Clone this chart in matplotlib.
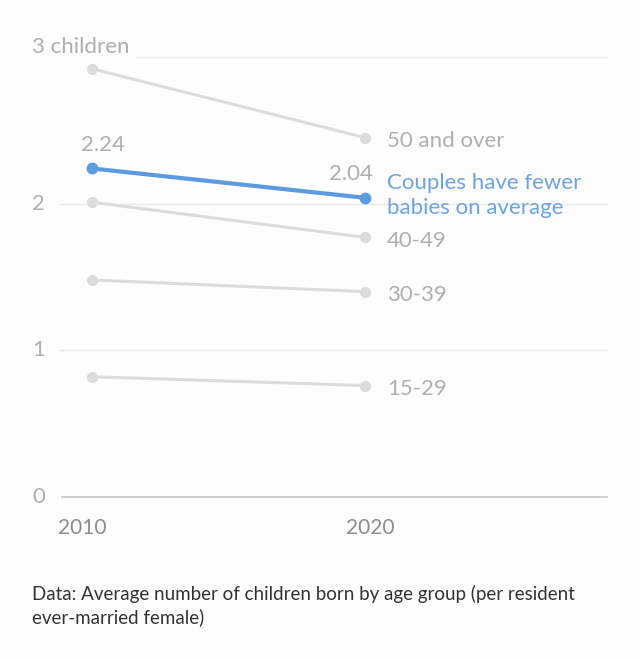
import matplotlib.pyplot as plt

plt.rcParams['font.family'] = ['Lato', 'DejaVu Sans']

# data
years = [2010, 2020]
groups = ['50 and over', '40-49', '30-39', '15-29']
values_50 = [2.92, 2.45]
values_40 = [2.01, 1.77]
values_30 = [1.48, 1.40]
values_15 = [0.82, 0.76]
average = [2.24, 2.04]
yticks = [0, 1, 2, 3]
ytick_labels = ['0', '1', '2', '3 children']

grey = '#dcdcdc'
grey_text = '#afafaf'
blue = '#5b9be0'
blue_text = '#6fa3dc'

fig = plt.figure(figsize=(6.4, 6.6), dpi=100)
fig.patch.set_facecolor('#fdfdfe')
ax = fig.add_axes([60 / 640, 1 - 497 / 660, 547 / 640, 440 / 660])
ax.set_facecolor('#fdfdfe')
ax.set_xlim(2008.83, 2028.86)
ax.set_ylim(0, 3)
for s in ax.spines.values():
    s.set_visible(False)
ax.set_xticks([])
ax.set_yticks([])

# gridlines
ax.axhline(0, color='#c6c6cc', lw=1.2, xmin=2 / 547, clip_on=False)
ax.axhline(1, color='#eaeaea', lw=1.0, clip_on=False)
ax.axhline(2, color='#eaeaea', lw=1.0, clip_on=False)
ax.axhline(3, color='#eaeaea', lw=1.0, xmin=77 / 547, clip_on=False)

for lab, v in zip(ytick_labels, yticks):
    ax.text(-28 / 547, v, lab, transform=ax.get_yaxis_transform(), ha='left',
            va='bottom' if v == 3 else 'center', fontsize=16, color=grey_text)

# grey series
series = [values_50, values_40, values_30, values_15]
for name, vals in zip(groups, series):
    ax.plot(years, vals, color=grey, lw=2.2, marker='o', ms=7, clip_on=False)
    ax.annotate(name, (years[1], vals[1]), xytext=(16, -2.5), textcoords='offset points',
                ha='left', va='center', fontsize=16, color=grey_text)

# average
ax.plot(years, average, color=blue, lw=3, marker='o', ms=7.5, clip_on=False, zorder=5)
ax.annotate(f'{average[0]:.2f}', (years[0], average[0]), xytext=(8, 10),
            textcoords='offset points', ha='center', va='bottom', fontsize=16, color=grey_text)
ax.annotate(f'{average[1]:.2f}', (years[1], average[1]), xytext=(-10, 10),
            textcoords='offset points', ha='center', va='bottom', fontsize=16, color=grey_text)
ax.annotate('Couples have fewer\nbabies on average', (years[1], average[1]), xytext=(16, 1.5),
            textcoords='offset points', ha='left', va='center', fontsize=16,
            color=blue_text, linespacing=1.3)

# x labels
ax.text(years[0] - 0.35, -0.21, '2010', ha='center', va='center', fontsize=15, color='#8c8c8c')
ax.text(years[1] + 0.2, -0.21, '2020', ha='center', va='center', fontsize=15, color='#8c8c8c')

fig.text(32 / 640, 1 - 606 / 660,
         'Data: Average number of children born by age group (per resident\never-married female)',
         ha='left', va='center', fontsize=13.5, color='#333333', linespacing=1.35)

fig.savefig('out.png', dpi=100, facecolor=fig.get_facecolor())
